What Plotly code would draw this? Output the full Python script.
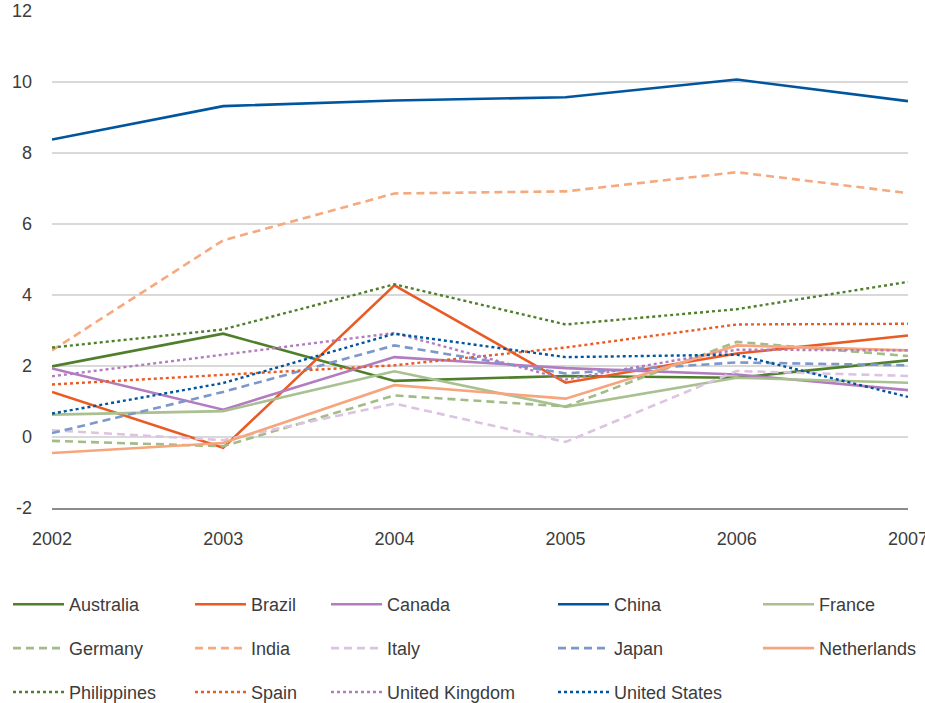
import plotly.graph_objects as go

years = [2002, 2003, 2004, 2005, 2006, 2007]

australia = [1.99, 2.91, 1.58, 1.72, 1.67, 2.16]
brazil = [1.27, -0.30, 4.27, 1.53, 2.35, 2.86]
canada = [1.93, 0.77, 2.25, 1.94, 1.76, 1.32]
china = [8.38, 9.32, 9.48, 9.57, 10.07, 9.46]
france = [0.63, 0.73, 1.85, 0.85, 1.67, 1.53]
germany = [-0.11, -0.26, 1.17, 0.86, 2.68, 2.28]
india = [2.44, 5.54, 6.86, 6.92, 7.46, 6.87]
italy = [0.19, -0.09, 0.94, -0.14, 1.86, 1.72]
japan = [0.11, 1.27, 2.58, 1.79, 2.10, 2.02]
netherlands = [-0.45, -0.17, 1.46, 1.08, 2.58, 2.44]
philippines = [2.52, 3.03, 4.30, 3.17, 3.60, 4.37]
spain = [1.48, 1.74, 2.02, 2.52, 3.17, 3.19]
united_kingdom = [1.71, 2.32, 2.93, 1.62, 2.46, 2.44]
united_states = [0.66, 1.52, 2.91, 2.25, 2.32, 1.13]

y_ticks = [-2, 0, 2, 4, 6, 8, 10, 12]

DASH = "8px,5px"
series = [
    # name, values, color, dash, legend column
    ("Australia", australia, "#4F7F2B", "solid", "legend"),
    ("Brazil", brazil, "#EA5B24", "solid", "legend2"),
    ("Canada", canada, "#B37CBF", "solid", "legend3"),
    ("China", china, "#00559F", "solid", "legend4"),
    ("France", france, "#A9C091", "solid", "legend5"),
    ("Germany", germany, "#A1BC87", DASH, "legend"),
    ("India", india, "#F5A97F", DASH, "legend2"),
    ("Italy", italy, "#DCC3E2", DASH, "legend3"),
    ("Japan", japan, "#7C97CA", DASH, "legend4"),
    ("Netherlands", netherlands, "#F6A57C", "solid", "legend5"),
    ("Philippines", philippines, "#4F7F2B", "dot", "legend"),
    ("Spain", spain, "#EA5B24", "dot", "legend2"),
    ("United Kingdom", united_kingdom, "#B37CBF", "dot", "legend3"),
    ("United States", united_states, "#00559F", "dot", "legend4"),
]

fig = go.Figure()
for name, vals, color, dash, leg in series:
    fig.add_trace(go.Scatter(
        x=years, y=vals, name=name, mode="lines",
        line=dict(color=color, width=2.6 if dash != "dot" else 2.4, dash=dash),
        legend=leg, legendgroup=name,
    ))

FONT = "Liberation Sans, Arial, sans-serif"
W, H = 925, 703
ML, MR, MT, MB = 52, 17, 11, 195
pw = W - ML - MR
ph = H - MT - MB

col_px = [13, 195, 331, 558, 763]
legend_names = ["legend", "legend2", "legend3", "legend4", "legend5"]
top_px = 586
legs = {}
for ln, cx in zip(legend_names, col_px):
    legs[ln] = dict(
        x=(cx - 5 - ML) / pw, xanchor="left",
        y=-(top_px - (MT + ph)) / ph, yanchor="top",
        orientation="v", traceorder="grouped", tracegroupgap=17.5,
        font=dict(family=FONT, size=18, color="#3C3C3C"),
        bgcolor="rgba(0,0,0,0)", borderwidth=0, itemwidth=51,
    )

fig.update_layout(
    width=W, height=H,
    margin=dict(l=ML, r=MR, t=MT, b=MB, autoexpand=False),
    paper_bgcolor="white", plot_bgcolor="white",
    showlegend=True,
    font=dict(family=FONT, size=18, color="#3C3C3C"),
    xaxis=dict(
        range=[2002, 2007], tickvals=years, ticktext=[str(y) for y in years],
        showgrid=False, zeroline=False, showline=True, linecolor="#8C8C8C", linewidth=2,
        ticks="", ticklabelstandoff=13, fixedrange=True, automargin=False,
        ticklabeloverflow="allow",
    ),
    yaxis=dict(
        range=[-2, 12], tickvals=y_ticks, ticktext=[str(v) for v in y_ticks],
        showgrid=True, gridcolor="#D9D9D9", gridwidth=1.5, zeroline=False,
        showline=False, ticks="", ticklabelstandoff=19, automargin=False,
        ticklabeloverflow="allow",
    ),
    **legs,
)

fig.write_html("out.html")
